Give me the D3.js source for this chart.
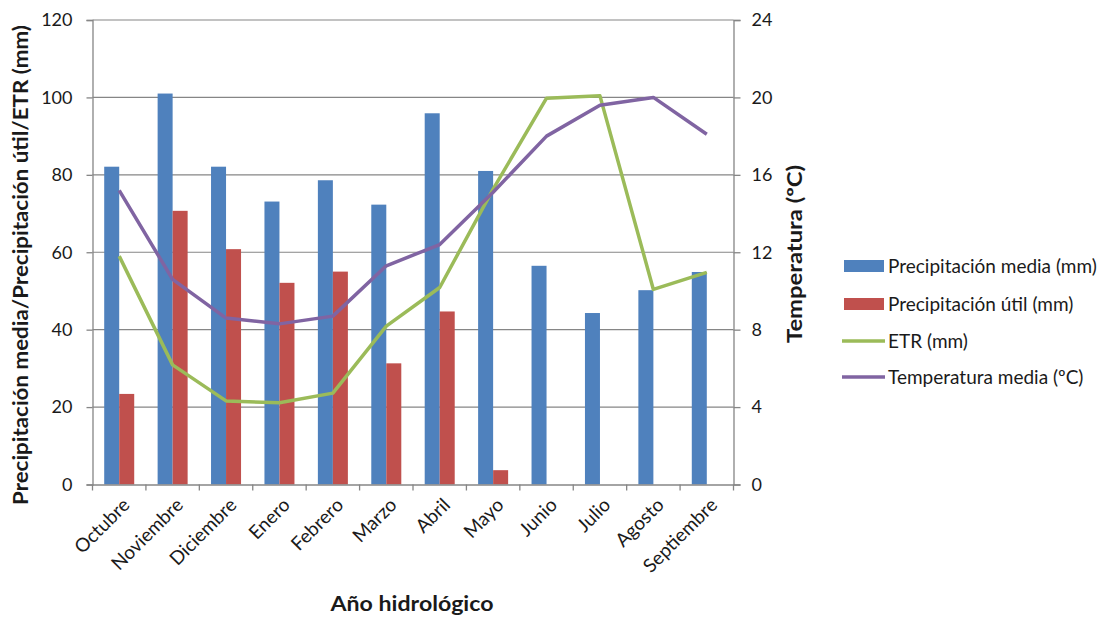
<!DOCTYPE html>
<html>
<head>
<meta charset="utf-8">
<script src="https://cdn.jsdelivr.net/npm/d3@7/dist/d3.min.js"></script>
<style>
  html, body { margin: 0; padding: 0; background: #fff; }
  svg { display: block; font-family: Lato, "Open Sans", sans-serif; }
</style>
</head>
<body>
<svg id="chart" width="1098" height="617"></svg>
<script>
// Monthly hydrological-year data
const months = ["Octubre", "Noviembre", "Diciembre", "Enero", "Febrero", "Marzo",
                "Abril", "Mayo", "Junio", "Julio", "Agosto", "Septiembre"];
const precipMedia = [82.1, 101.0, 82.1, 73.1, 78.6, 72.3, 95.9, 81.0, 56.5, 44.3, 50.2, 54.9];
const precipUtil  = [23.4, 70.7, 60.8, 52.1, 55.0, 31.3, 44.7, 3.7, 0, 0, 0, 0];
const etr         = [59.0, 30.9, 21.6, 21.1, 23.6, 40.9, 50.9, 76.3, 99.8, 100.4, 50.4, 54.8];
const tempMedia   = [15.2, 10.6, 8.6, 8.3, 8.7, 11.3, 12.4, 15.1, 18.0, 19.6, 20.0, 18.1];
const leftTicks  = [0, 20, 40, 60, 80, 100, 120];
const rightTicks = [0, 4, 8, 12, 16, 20, 24];

const seriesNames = ["Precipitación media (mm)", "Precipitación útil (mm)", "ETR (mm)", "Temperatura media (ºC)"];
const colors = { blue: "#4F81BD", red: "#C0504D", green: "#9BBB59", purple: "#8064A2" };

const svg = d3.select("#chart");
const plot = { left: 92.5, right: 733.5, top: 20, bottom: 484.5 };
const axisColor = "#868686";
const textColor = "#1a1a1a";
const tickFont = "18px";
const labelFont = "19px";

const x = d3.scaleBand().domain(months).range([plot.left, plot.right]);
const yL = d3.scaleLinear().domain([0, 120]).range([plot.bottom, plot.top]);
const yR = d3.scaleLinear().domain([0, 24]).range([plot.bottom, plot.top]);

// bars: two per category, gap of 156% of a bar width
const barW = x.bandwidth() / (2 + 1.56);
const groupOffset = (x.bandwidth() - 2 * barW) / 2;

// horizontal gridlines
svg.append("g").selectAll("line").data(leftTicks.slice(1)).join("line")
  .attr("x1", plot.left).attr("x2", plot.right)
  .attr("y1", d => yL(d)).attr("y2", d => yL(d))
  .attr("stroke", axisColor).attr("stroke-width", 1.2);

// bars
svg.append("g").selectAll("rect").data(months).join("rect")
  .attr("x", d => x(d) + groupOffset)
  .attr("width", barW)
  .attr("y", (d, i) => yL(precipMedia[i]))
  .attr("height", (d, i) => yL(0) - yL(precipMedia[i]))
  .attr("fill", colors.blue);

svg.append("g").selectAll("rect").data(months.filter((d, i) => precipUtil[i] > 0)).join("rect")
  .attr("x", d => x(d) + groupOffset + barW)
  .attr("width", barW)
  .attr("y", d => yL(precipUtil[months.indexOf(d)]))
  .attr("height", d => yL(0) - yL(precipUtil[months.indexOf(d)]))
  .attr("fill", colors.red);

// lines
const cx = d => x(d) + x.bandwidth() / 2;
const etrLine = d3.line().x((d, i) => cx(months[i])).y(d => yL(d));
const tempLine = d3.line().x((d, i) => cx(months[i])).y(d => yR(d));

svg.append("path").datum(etr).attr("d", etrLine)
  .attr("fill", "none").attr("stroke", colors.green).attr("stroke-width", 3.5)
  .attr("stroke-linejoin", "round");
svg.append("path").datum(tempMedia).attr("d", tempLine)
  .attr("fill", "none").attr("stroke", colors.purple).attr("stroke-width", 3.5)
  .attr("stroke-linejoin", "round");

// axes
const leftAxis = d3.axisLeft(yL).tickValues(leftTicks).tickSize(6).tickPadding(14);
const rightAxis = d3.axisRight(yR).tickValues(rightTicks).tickSize(7).tickPadding(11);
const bottomAxis = d3.axisBottom(x).tickSize(0).tickFormat("");

function styleAxis(g) {
  g.select(".domain").attr("stroke", axisColor).attr("stroke-width", 1.3);
  g.selectAll(".tick line").attr("stroke", axisColor).attr("stroke-width", 1.3);
  g.selectAll(".tick text").attr("fill", textColor)
    .style("font-size", tickFont).style("font-family", "Lato, sans-serif");
}

svg.append("g").attr("transform", `translate(${plot.left},0)`).call(leftAxis).call(styleAxis);
svg.append("g").attr("transform", `translate(${plot.right},0)`).call(rightAxis).call(styleAxis);
svg.append("g").attr("transform", `translate(0,${plot.bottom})`).call(bottomAxis).call(styleAxis);

// category boundary ticks
const bounds = months.map(d => x(d)).concat([plot.right]);
svg.append("g").selectAll("line").data(bounds).join("line")
  .attr("x1", d => d).attr("x2", d => d)
  .attr("y1", plot.bottom).attr("y2", plot.bottom + 6)
  .attr("stroke", axisColor).attr("stroke-width", 1.3);

// rotated month labels
svg.append("g").selectAll("text").data(months).join("text")
  .attr("transform", d => `translate(${cx(d) + 7},${plot.bottom + 17}) rotate(-45)`)
  .attr("text-anchor", "end")
  .attr("dy", "0.35em")
  .attr("fill", textColor)
  .style("font-size", labelFont)
  .text(d => d);

// axis titles
svg.append("text")
  .attr("transform", `translate(28,265) rotate(-90)`)
  .attr("text-anchor", "middle")
  .attr("textLength", 480).attr("lengthAdjust", "spacingAndGlyphs")
  .style("font-size", "20px").style("font-weight", "bold").attr("fill", textColor)
  .text("Precipitación media/Precipitación útil/ETR (mm)");

svg.append("text")
  .attr("transform", `translate(802,254) rotate(-90)`)
  .attr("text-anchor", "middle")
  .attr("textLength", 178).attr("lengthAdjust", "spacingAndGlyphs")
  .style("font-size", "20px").style("font-weight", "bold").attr("fill", textColor)
  .text("Temperatura (ºC)");

svg.append("text")
  .attr("x", 412).attr("y", 611)
  .attr("text-anchor", "middle")
  .attr("textLength", 163).attr("lengthAdjust", "spacingAndGlyphs")
  .style("font-size", "20px").style("font-weight", "bold").attr("fill", textColor)
  .text("Año hidrológico");

// legend
const legendRows = [266, 304, 341, 377];
const lg = svg.append("g");
seriesNames.forEach((name, i) => {
  const yy = legendRows[i];
  if (i < 2) {
    lg.append("rect").attr("x", 844).attr("y", yy - 6).attr("width", 40).attr("height", 12)
      .attr("fill", i === 0 ? colors.blue : colors.red);
  } else {
    lg.append("line").attr("x1", 842).attr("x2", 885).attr("y1", yy).attr("y2", yy)
      .attr("stroke", i === 2 ? colors.green : colors.purple).attr("stroke-width", 3.5);
  }
  lg.append("text").attr("x", 888).attr("y", yy).attr("dy", "0.35em")
    .attr("fill", textColor).style("font-size", labelFont)
    .text(name);
});
</script>
</body>
</html>
